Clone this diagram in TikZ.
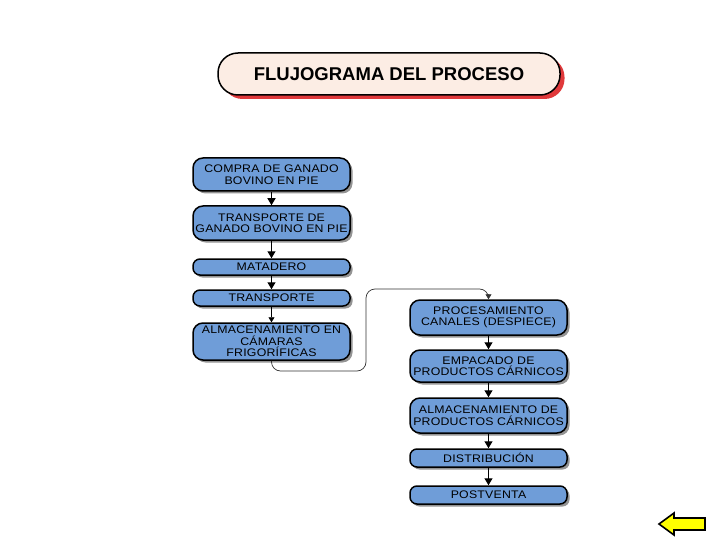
\documentclass[tikz,border=0pt]{standalone}
\usepackage{fontspec}
\setmainfont{Liberation Sans}
\newfontfamily\boxfont[FakeStretch=1.12, LetterSpace=2]{Liberation Sans}
\usetikzlibrary{arrows.meta, positioning, shadows}
\definecolor{stepblue}{HTML}{6F9DD8}
\definecolor{titlepeach}{HTML}{FCEDE4}
\definecolor{titlered}{HTML}{E0393B}
\definecolor{backyellow}{HTML}{FFFF00}

\begin{document}
\begin{tikzpicture}[x=1pt, y=-1pt,
  stepbox/.style={draw=black, line width=1.5pt, fill=stepblue, rounded corners=10pt,
    minimum width=157pt, inner sep=0pt, align=center,
    font=\boxfont\fontsize{11}{11.5}\selectfont,
    drop shadow={shadow xshift=2.5pt, shadow yshift=-2.5pt, fill=black!60, opacity=0.7}},
  thinbox/.style={stepbox, rounded corners=7pt},
  flow/.style={-{Triangle[width=8pt,length=7pt]}, line width=1.3pt}]
  \useasboundingbox (0,0) rectangle (720,540);

  % Title banner with red shadow
  \node[draw=black, line width=1.5pt, fill=titlepeach, rounded corners=20pt,
    minimum width=342pt, minimum height=42pt,
    drop shadow={shadow xshift=4.5pt, shadow yshift=-4pt, fill=titlered, opacity=1},
    font=\bfseries\fontsize{18.5}{20}\selectfont] (title) at (389,74) {FLUJOGRAMA DEL PROCESO};

  % Left column - from purchase to cold storage
  \node[stepbox, minimum height=33pt] (compra) at (271.5,174.5) {COMPRA DE GANADO\\BOVINO EN PIE};
  \node[stepbox, minimum height=34pt] (transpie) at (271.5,223) {TRANSPORTE DE\\GANADO BOVINO EN PIE};
  \node[thinbox, minimum height=16pt] (matadero) at (271.5,267) {MATADERO};
  \node[thinbox, minimum height=16pt] (transporte) at (271.5,298) {TRANSPORTE};
  \node[stepbox, minimum height=37pt] (almcam) at (271.5,341.5) {ALMACENAMIENTO EN\\CÁMARAS\\FRIGORÍFICAS};

  % Right column - processing to after-sales
  \node[stepbox, minimum height=35pt] (proc) at (488.5,317.5) {PROCESAMIENTO\\CANALES (DESPIECE)};
  \node[stepbox, minimum height=32pt] (empac) at (488.5,366) {EMPACADO DE\\PRODUCTOS CÁRNICOS};
  \node[stepbox, minimum height=35pt] (almprod) at (488.5,415.5) {ALMACENAMIENTO DE\\PRODUCTOS CÁRNICOS};
  \node[thinbox, minimum height=18pt] (distrib) at (488.5,458) {DISTRIBUCIÓN};
  \node[thinbox, minimum height=18pt] (postventa) at (488.5,495) {POSTVENTA};

  % Arrows down each column
  \draw[flow] (compra) -- (transpie);
  \draw[flow] (transpie) -- (matadero);
  \draw[flow] (matadero) -- (transporte);
  \draw[-{Triangle[width=6pt,length=5pt]}, line width=0.8pt] (transporte) -- (almcam);
  \draw[flow] (proc) -- (empac);
  \draw[flow] (empac) -- (almprod);
  \draw[flow] (almprod) -- (distrib);
  \draw[flow] (distrib) -- (postventa);

  % Link between the two columns
  \coordinate (bendlow) at (366,371);
  \coordinate (bendhigh) at (366,289);
  \draw[black!80, line width=0.7pt, rounded corners=9pt, -{Triangle[width=6pt,length=5pt]}]
    (almcam.south) |- (bendlow) -- (bendhigh) -| (proc.north);

  % Back button
  \draw[fill=backyellow, line width=1.6pt, line join=miter]
    (659,524) -- (674,513) -- (674,518) -- (705,518) -- (705,530) -- (674,530) -- (674,535) -- cycle;
\end{tikzpicture}
\end{document}
